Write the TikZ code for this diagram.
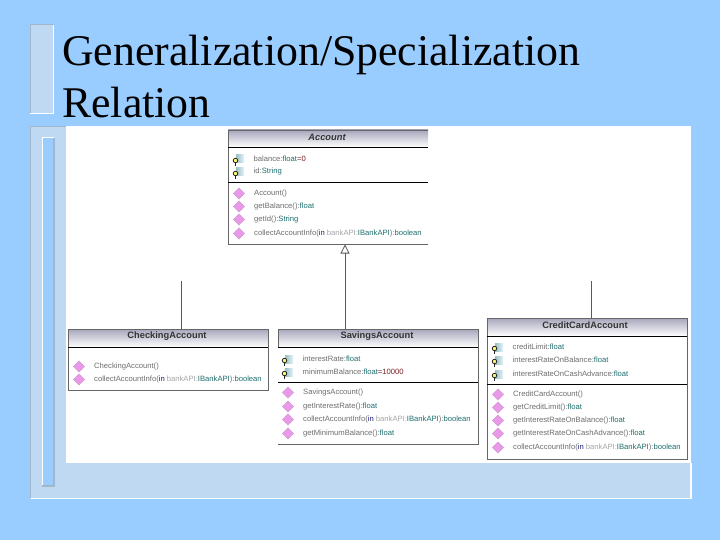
\documentclass[tikz,border=0pt]{standalone}
\usepackage{fontspec}
\setmainfont{Liberation Serif}
\newfontfamily\lblfont{Liberation Sans}
\usetikzlibrary{shapes.geometric,arrows.meta}
\definecolor{slidebg}{HTML}{99CCFF}
\definecolor{panel}{HTML}{C0D9F2}
\definecolor{bevel}{HTML}{A3B5C9}
\definecolor{nmc}{HTML}{6E6E6E}
\definecolor{tyc}{HTML}{1F6F6F}
\definecolor{kwc}{HTML}{20207A}
\definecolor{valc}{HTML}{7A2020}
\definecolor{headtop}{HTML}{A6A6BC}
\newcommand{\nm}[1]{\textcolor{nmc}{#1}}
\newcommand{\ty}[1]{\textcolor{tyc}{#1}}
\newcommand{\kw}[1]{\textcolor{kwc}{#1}}
\newcommand{\vl}[1]{\textcolor{valc}{#1}}
\tikzset{
  x=1pt,y=-1pt,
  title/.style={anchor=base west,inner sep=0pt,font=\fontsize{43.8}{44}\selectfont,text=black},
  classbox/.style={anchor=north west,inner sep=0,outer sep=0,minimum width=200pt},
  classname/.style={inner sep=0pt,font=\lblfont\fontsize{9.3}{9}\selectfont\bfseries,text=black!80},
  member/.style={anchor=west,inner sep=0pt,font=\lblfont\fontsize{7.65}{8}\selectfont,text=nmc},
  opicon/.style={diamond,aspect=1,fill=violet!45!magenta!40,draw=violet!40,line width=.4pt,inner sep=0,minimum size=11.5pt},
  attricon/.style={inner sep=0,minimum size=8pt,left color=tyc!45,right color=slidebg!25,draw=none},
  keyicon/.style={circle,draw=black!85,line width=.8pt,fill=yellow!55,inner sep=0,minimum size=4.5pt},
  border/.style={draw=black!60,line width=.9pt},
  divider/.style={draw=black,line width=.8pt},
  genline/.style={draw=black!65,line width=.8pt},
}
\newcommand{\headshade}[4]{\shade[top color=headtop,bottom color=white] (#1,#2) rectangle (#3,#4);}
\newcommand{\attr}[4]{%
  \node[attricon] (#1icon) at (#2+6,#3) {};
  \node[keyicon] (#1key) at (#2+1.5,#3+1.5) {};
  \draw[black!85,line width=.8pt] (#1key.south) -- ++(0,2.5);
  \node[member] (#1) at (#2+19.5,#3-0.5) {#4};}
\newcommand{\oper}[4]{%
  \node[opicon] (#1icon) at (#2+5,#3-0.5) {};
  \node[member] (#1) at (#2+20,#3-0.5) {#4};}
\begin{document}
\begin{tikzpicture}
\useasboundingbox (0,0) rectangle (720,540);
\fill[slidebg] (0,0) rectangle (720,540);
% title block
\fill[panel] (30,24) rectangle (54,114);
\draw[bevel,line width=1.5pt] (30.7,114) -- (30.7,24.7) -- (54,24.7);
\draw[white,line width=1.5pt] (30,113.3) -- (53.3,113.3) -- (53.3,25);
\node[title] (t1) at (62,66) {Generalization/Specialization};
\node[title] (t2) at (62,118) {Relation};
% panel
\fill[panel] (30,126) rectangle (691,499);
\fill[white] (66,126) rectangle (691,463);
\draw[bevel,line width=1.5pt] (30.7,498) -- (30.7,126.7) -- (66,126.7);
\draw[white,line width=1.5pt] (31,498.3) -- (691,498.3) -- (691,463);
\fill[slidebg] (42,137) rectangle (54,486);
\draw[white,line width=1.5pt] (42.7,486) -- (42.7,137.7) -- (54,137.7);
\draw[bevel,line width=1.5pt] (42,486) -- (54,486) -- (54,138);
% Account
\node[classbox,minimum height=114pt] (account) at (228,130) {};
\headshade{228}{130}{428}{147}
\draw[border] (428,130) -- (228,130) -- (228,244) -- (428,244);
\draw[divider] (228,147) -- (428,147);
\draw[divider] (228,182) -- (428,182);
\node[classname,font=\lblfont\fontsize{9.3}{9}\selectfont\bfseries\itshape] (accountname) at (327,137) {Account};
\attr{a1}{234}{159}{\nm{balance:}\ty{float}\vl{=0}}
\attr{a2}{234}{172}{\nm{id:}\ty{String}}
\oper{o1}{234}{194}{\nm{Account()}}
\oper{o2}{234}{207}{\nm{getBalance():}\ty{float}}
\oper{o3}{234}{220}{\nm{getId():}\ty{String}}
\oper{o4}{234}{234}{\nm{collectAccountInfo(}\kw{in} \textcolor{black!35}{bankAPI:}\ty{IBankAPI}\nm{):}\ty{boolean}}
% CheckingAccount
\node[classbox,minimum height=61pt] (checking) at (68,329) {};
\headshade{68}{329}{268}{347}
\draw[border] (68,329) rectangle (268,390);
\draw[divider] (68,347) -- (268,347);
\node[classname] (checkingname) at (167,336) {CheckingAccount};
\oper{c1}{74}{367}{\nm{CheckingAccount()}}
\oper{c2}{74}{380}{\nm{collectAccountInfo(}\kw{in} \textcolor{black!35}{bankAPI:}\ty{IBankAPI}\nm{):}\ty{boolean}}
% SavingsAccount
\node[classbox,minimum height=115pt] (savings) at (278,329) {};
\headshade{278}{329}{478}{347}
\draw[border] (278,347) -- (278,329) -- (478,329) -- (478,444) -- (278,444);
\draw[divider] (278,347) -- (478,347);
\draw[divider] (278,382) -- (478,382);
\node[classname] (savingsname) at (377,336) {SavingsAccount};
\attr{s1}{283}{359}{\nm{interestRate:}\ty{float}}
\attr{s2}{283}{372}{\nm{minimumBalance:}\ty{float}\vl{=10000}}
\oper{s3}{283}{393}{\nm{SavingsAccount()}}
\oper{s4}{283}{407}{\nm{getInterestRate():}\ty{float}}
\oper{s5}{283}{420}{\nm{collectAccountInfo(}\kw{in} \textcolor{black!35}{bankAPI:}\ty{IBankAPI}\nm{):}\ty{boolean}}
\oper{s6}{283}{434}{\nm{getMinimumBalance():}\ty{float}}
% CreditCardAccount
\node[classbox,minimum height=141pt] (credit) at (487,318) {};
\headshade{487}{318}{687}{336}
\draw[border] (487,318) rectangle (687,459);
\draw[divider] (487,336) -- (687,336);
\draw[divider] (487,384) -- (687,384);
\node[classname] (creditname) at (585,325) {CreditCardAccount};
\attr{r1}{493}{347}{\nm{creditLimit:}\ty{float}}
\attr{r2}{493}{360}{\nm{interestRateOnBalance:}\ty{float}}
\attr{r3}{493}{374}{\nm{interestRateOnCashAdvance:}\ty{float}}
\oper{r4}{493}{395}{\nm{CreditCardAccount()}}
\oper{r5}{493}{408}{\nm{getCreditLimit():}\ty{float}}
\oper{r6}{493}{421}{\nm{getInterestRateOnBalance():}\ty{float}}
\oper{r7}{493}{434}{\nm{getInterestRateOnCashAdvance():}\ty{float}}
\oper{r8}{493}{448}{\nm{collectAccountInfo(}\kw{in} \textcolor{black!35}{bankAPI:}\ty{IBankAPI}\nm{):}\ty{boolean}}
% connectors
\coordinate (tip) at (345,244.5);
\coordinate (savingstop) at (345,329);
\coordinate (checkingtop) at (181,329);
\coordinate (checkingend) at (181,281);
\coordinate (credittop) at (591,318);
\coordinate (creditend) at (591,281);
\draw[genline,-{Triangle[open,fill=white,length=9pt,width=9pt]}] (savingstop) -- (tip);
\draw[genline] (checkingtop) -- (checkingend);
\draw[genline] (credittop) -- (creditend);
\end{tikzpicture}
\end{document}
